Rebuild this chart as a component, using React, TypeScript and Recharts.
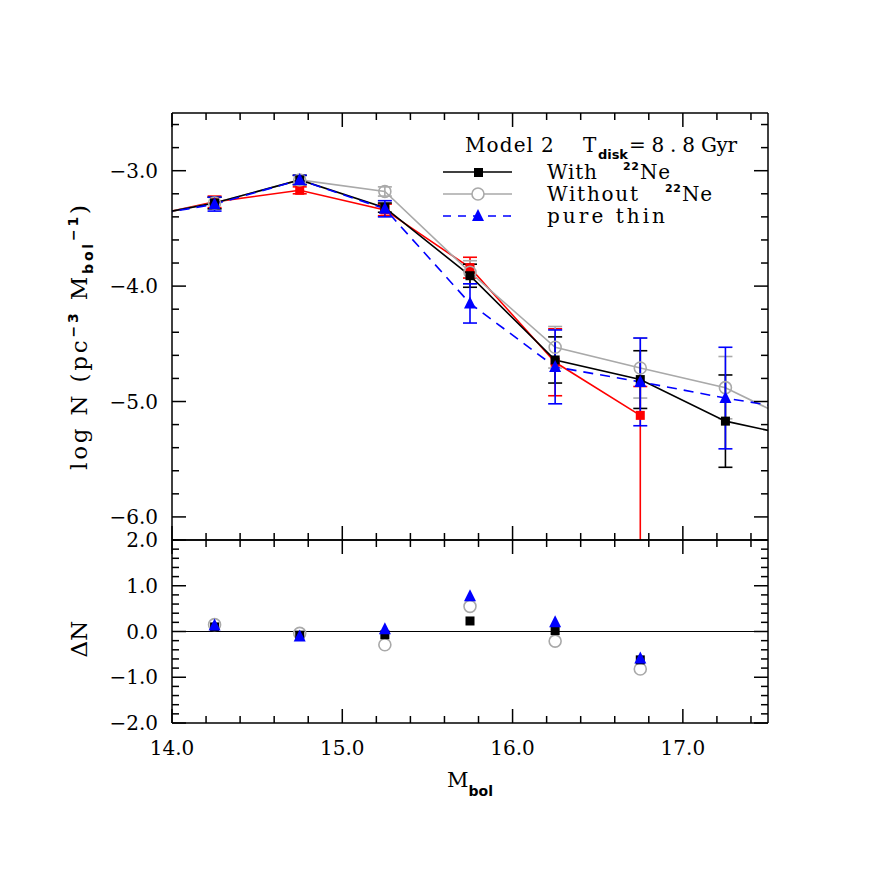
import React from 'react';
import { ComposedChart, Line, XAxis, YAxis, ErrorBar, ReferenceLine } from 'recharts';

// bin centres (Mbol); first and last bins fall outside the plotted range and are clipped
const mbol = [13.75, 14.25, 14.75, 15.25, 15.75, 16.25, 16.75, 17.25, 17.75];

// log N, top panel
const withNe = [-3.42, -3.28, -3.08, -3.32, -3.91, -4.64, -4.81, -5.17, -5.33];
const withNeErr = [0.05, 0.05, 0.04, 0.04, 0.1, 0.2, 0.25, 0.4, 0.4];
const withoutNe = [-3.42, -3.28, -3.08, -3.18, -3.88, -4.53, -4.71, -4.88, -5.24];
const withoutNeErr = [0.05, 0.05, 0.04, 0.04, 0.1, 0.18, 0.26, 0.27, 0.3];
const pureThin = [-3.42, -3.29, -3.08, -3.33, -4.15, -4.7, -4.83, -4.97, -5.09];
const pureThinErr = [0.06, 0.06, 0.04, 0.07, 0.17, 0.32, 0.38, 0.44, 0.45];
const observed = [-3.43, -3.27, -3.17, -3.34, -3.84, -4.66, -5.12, null, null];
const observedErr: (number[] | null)[] = [
  [0.05, 0.05], [0.05, 0.05], [0.03, 0.03], [0.05, 0.05], [0.09, 0.09], [0.29, 0.29], [1.5, 0.25], null, null,
];

// Delta N, bottom panel
const deltaX = [14.25, 14.75, 15.25, 15.75, 16.25, 16.75];
const deltaWith = [0.1, -0.08, -0.07, 0.23, 0.02, -0.62];
const deltaWithout = [0.15, -0.04, -0.29, 0.55, -0.21, -0.82];
const deltaThin = [0.13, -0.11, 0.05, 0.77, 0.2, -0.59];

// axis ticks
const xTicks = [14.0, 14.2, 14.4, 14.6, 14.8, 15.0, 15.2, 15.4, 15.6, 15.8, 16.0, 16.2, 16.4, 16.6, 16.8, 17.0, 17.2, 17.4];
const topYTicks = [-6.2, -6.0, -5.8, -5.6, -5.4, -5.2, -5.0, -4.8, -4.6, -4.4, -4.2, -4.0, -3.8, -3.6, -3.4, -3.2, -3.0, -2.8, -2.6];
const botYTicks = [-2.0, -1.8, -1.6, -1.4, -1.2, -1.0, -0.8, -0.6, -0.4, -0.2, 0.0, 0.2, 0.4, 0.6, 0.8, 1.0, 1.2, 1.4, 1.6, 1.8, 2.0];
const topYLabels = [-3, -4, -5, -6];
const botYLabels = [2, 1, 0, -1, -2];
const xLabels = [14, 15, 16, 17];

const topData = mbol.map((x, i) => ({
  x,
  withNe: withNe[i], withNeErr: withNeErr[i],
  withoutNe: withoutNe[i], withoutNeErr: withoutNeErr[i],
  pureThin: pureThin[i], pureThinErr: pureThinErr[i],
  observed: observed[i], observedErr: observedErr[i],
}));

const botData = deltaX.map((x, i) => ({
  x, dWith: deltaWith[i], dWithout: deltaWithout[i], dThin: deltaThin[i],
}));

const FONT = '"DejaVu Serif", serif';
const SUBFONT = '"DejaVu Sans", sans-serif';
const GRAY = '#a9a9a9';
const BLUE = '#0000ff';
const RED = '#ff0000';

const isMajor = (v: number) => Math.abs(v - Math.round(v)) < 1e-6;
const fmt = (v: number) => (v < 0 ? '\u2212' : '') + Math.abs(v).toFixed(1);
const hasLabel = (list: number[], v: number) => list.some(l => Math.abs(l - v) < 1e-6);

const makeTick = (side: 'left' | 'right' | 'top' | 'bottom', labels: number[]) => (props: any) => {
  const { x, y, payload } = props;
  const v = payload.value;
  const len = isMajor(v) ? 14 : 7;
  let line;
  if (side === 'bottom') line = <line x1={x} y1={y} x2={x} y2={y - len} stroke="#000" strokeWidth={1.5} />;
  else if (side === 'top') line = <line x1={x} y1={y} x2={x} y2={y + len} stroke="#000" strokeWidth={1.5} />;
  else if (side === 'left') line = <line x1={x} y1={y} x2={x + len} y2={y} stroke="#000" strokeWidth={1.5} />;
  else line = <line x1={x} y1={y} x2={x - len} y2={y} stroke="#000" strokeWidth={1.5} />;
  let label = null;
  if (hasLabel(labels, v)) {
    if (side === 'bottom') {
      label = <text x={x} y={y + 32} textAnchor="middle" fontFamily={FONT} fontSize={20}>{fmt(v)}</text>;
    } else if (side === 'left') {
      label = <text x={x - 14} y={y + 7} textAnchor="end" fontFamily={FONT} fontSize={20}>{fmt(v)}</text>;
    }
  }
  return <g>{line}{label}</g>;
};

const square = (color: string, size: number) => (p: any) => {
  const { cx, cy, index } = p;
  if (cx == null || cy == null || p.value == null) return <g key={`sq${index}`} />;
  return <rect key={`sq${index}`} x={cx - size / 2} y={cy - size / 2} width={size} height={size} fill={color} />;
};
const ring = (color: string, r: number) => (p: any) => {
  const { cx, cy, index } = p;
  if (cx == null || cy == null || p.value == null) return <g key={`ci${index}`} />;
  return <circle key={`ci${index}`} cx={cx} cy={cy} r={r} fill="none" stroke={color} strokeWidth={1.6} />;
};
const triangle = (color: string) => (p: any) => {
  const { cx, cy, index } = p;
  if (cx == null || cy == null || p.value == null) return <g key={`tr${index}`} />;
  return <polygon key={`tr${index}`} points={`${cx},${cy - 7} ${cx - 6},${cy + 5} ${cx + 6},${cy + 5}`} fill={color} />;
};

const axisLine = { stroke: '#000', strokeWidth: 1.5 };

const frameAxes = (yDomain: number[], yTicks: number[], yLabels: number[], xLabs: number[]) => [
  <XAxis key="xb" xAxisId="b" dataKey="x" type="number" domain={[14, 17.5]} allowDataOverflow ticks={xTicks} interval={0}
    height={1} tickSize={0} tickMargin={0} tickLine={false} axisLine={axisLine} tick={makeTick('bottom', xLabs)} />,
  <XAxis key="xt" xAxisId="t" orientation="top" dataKey="x" type="number" domain={[14, 17.5]} allowDataOverflow ticks={xTicks} interval={0}
    height={1} tickSize={0} tickMargin={0} tickLine={false} axisLine={axisLine} tick={makeTick('top', [])} />,
  <YAxis key="yl" yAxisId="l" type="number" domain={yDomain} allowDataOverflow ticks={yTicks} interval={0}
    width={1} tickSize={0} tickMargin={0} tickLine={false} axisLine={axisLine} tick={makeTick('left', yLabels)} />,
  <YAxis key="yr" yAxisId="r" orientation="right" type="number" domain={yDomain} allowDataOverflow ticks={yTicks} interval={0}
    width={1} tickSize={0} tickMargin={0} tickLine={false} axisLine={axisLine} tick={makeTick('right', [])} />,
];

const sub = { fontFamily: SUBFONT, fontWeight: 'bold' as const, fontSize: 13 };
const word = (x: number, y: number, s: string, len?: number, extra: any = {}) => (
  <text x={x} y={y} fontFamily={FONT} fontSize={20} textLength={len} lengthAdjust={len ? 'spacing' : undefined} {...extra}>{s}</text>
);

export default function App() {
  return (
    <div style={{ position: 'absolute', left: 0, top: 0, width: 872, height: 872, background: '#fff' }}>
      <style>{`.topchart .recharts-errorBars, .topchart .recharts-errorBar { clip-path: url(#topPlotClip); }`}</style>
      <div className="topchart" style={{ position: 'absolute', left: 0, top: 0 }}>
        <ComposedChart width={872} height={560} data={topData} margin={{ top: 112, right: 103, bottom: 19, left: 171 }}>
          {frameAxes([-6.2, -2.5], topYTicks, topYLabels, [])}
          <Line xAxisId="b" yAxisId="l" dataKey="observed" type="linear" stroke={RED} strokeWidth={1.6}
            dot={square(RED, 9)} activeDot={false} isAnimationActive={false}>
            <ErrorBar dataKey="observedErr" width={7} stroke={RED} strokeWidth={1.6} direction="y" />
          </Line>
          <Line xAxisId="b" yAxisId="l" dataKey="withoutNe" type="linear" stroke={GRAY} strokeWidth={1.6}
            dot={ring(GRAY, 6)} activeDot={false} isAnimationActive={false}>
            <ErrorBar dataKey="withoutNeErr" width={7} stroke={GRAY} strokeWidth={1.6} direction="y" />
          </Line>
          <Line xAxisId="b" yAxisId="l" dataKey="withNe" type="linear" stroke="#000" strokeWidth={1.6}
            dot={square('#000', 9)} activeDot={false} isAnimationActive={false}>
            <ErrorBar dataKey="withNeErr" width={7} stroke="#000" strokeWidth={1.6} direction="y" />
          </Line>
          <Line xAxisId="b" yAxisId="l" dataKey="pureThin" type="linear" stroke={BLUE} strokeWidth={1.6} strokeDasharray="10 7"
            dot={triangle(BLUE)} activeDot={false} isAnimationActive={false}>
            <ErrorBar dataKey="pureThinErr" width={7} stroke={BLUE} strokeWidth={1.6} direction="y" />
          </Line>
        </ComposedChart>
      </div>
      <div style={{ position: 'absolute', left: 0, top: 520 }}>
        <ComposedChart width={872} height={260} data={botData} margin={{ top: 19, right: 103, bottom: 56, left: 171 }}>
          {frameAxes([-2, 2], botYTicks, botYLabels, xLabels)}
          <ReferenceLine xAxisId="b" yAxisId="l" y={0} stroke="#000" strokeWidth={1.2} />
          <Line xAxisId="b" yAxisId="l" dataKey="dWithout" stroke="none" dot={ring(GRAY, 6)} activeDot={false} isAnimationActive={false} />
          <Line xAxisId="b" yAxisId="l" dataKey="dWith" stroke="none" dot={square('#000', 9)} activeDot={false} isAnimationActive={false} />
          <Line xAxisId="b" yAxisId="l" dataKey="dThin" stroke="none" dot={triangle(BLUE)} activeDot={false} isAnimationActive={false} />
        </ComposedChart>
      </div>
      <svg width={872} height={872} style={{ position: 'absolute', left: 0, top: 0, pointerEvents: 'none' }}>
        <defs>
          <clipPath id="topPlotClip" clipPathUnits="userSpaceOnUse">
            <rect x={172} y={113} width={596} height={427} />
          </clipPath>
        </defs>
        {/* axis titles */}
        <text transform="translate(87,470) rotate(-90)" fontFamily={FONT} fontSize={23} textLength={265} lengthAdjust="spacing">
          log N (pc<tspan dy={-9} {...sub} fontSize={14}>{'\u22123'}</tspan>
          <tspan dy={9}> M</tspan>
          <tspan dy={6} {...sub} fontSize={14}>bol</tspan>
          <tspan dy={-15} {...sub} fontSize={14}>{'\u22121'}</tspan>
          <tspan dy={9}>)</tspan>
        </text>
        <text transform="translate(87,639) rotate(-90)" textAnchor="middle" fontFamily={FONT} fontSize={23}>ΔN</text>
        <text x={447} y={787} fontFamily={FONT} fontSize={21}>
          M<tspan dy={9} {...sub} fontSize={14}>bol</tspan>
        </text>
        {/* legend */}
        {word(465, 152, 'Model', 68)}
        {word(541, 152, '2')}
        {word(583, 152, 'T')}
        <text x={598} y={159} {...sub} textLength={30} lengthAdjust="spacing">disk</text>
        {word(629, 152, '=8.8', 66)}
        {word(701, 152, 'Gyr', 36)}

        <line x1={443} y1={172} x2={512} y2={172} stroke="#000" strokeWidth={1.6} />
        <rect x={474} y={168} width={9} height={9} fill="#000" />
        {word(547, 179, 'With', 50)}
        <text x={623} y={170} {...sub} fontSize={11} textLength={16} lengthAdjust="spacing">22</text>
        {word(640, 179, 'Ne', 30)}

        <line x1={443} y1={194} x2={512} y2={194} stroke={GRAY} strokeWidth={1.6} />
        <circle cx={478} cy={194} r={6} fill="#fff" stroke={GRAY} strokeWidth={1.6} />
        {word(547, 201, 'Without', 91)}
        <text x={665} y={192} {...sub} fontSize={11} textLength={16} lengthAdjust="spacing">22</text>
        {word(682, 201, 'Ne', 30)}

        <line x1={443} y1={216} x2={512} y2={216} stroke={BLUE} strokeWidth={1.6} strokeDasharray="8 7" />
        <polygon points="478,209 472,221 484,221" fill={BLUE} />
        {word(547, 223, 'pure thin', 118)}
      </svg>
    </div>
  );
}
